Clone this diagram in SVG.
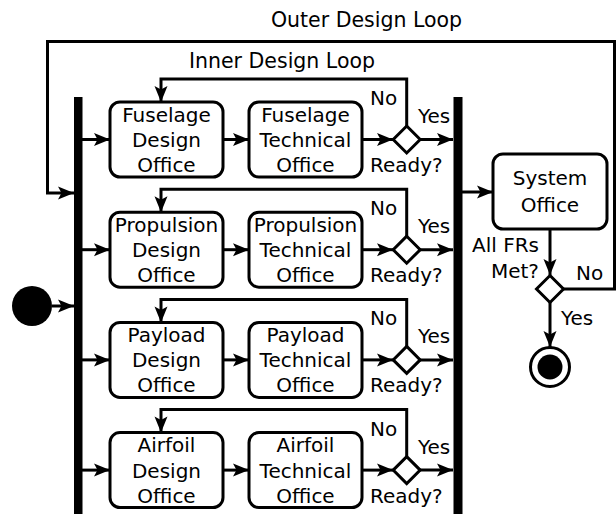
<svg xmlns="http://www.w3.org/2000/svg" width="616" height="514" viewBox="0 0 616 514">
<defs>
<marker id="ah" markerUnits="userSpaceOnUse" markerWidth="18" markerHeight="16" viewBox="-17 -8 18 16" refX="0" refY="0" orient="auto">
<path d="M0,0 L-16,-6.5 L-12.5,0 L-16,6.5 Z" fill="#000"/>
</marker>
</defs>
<style>
text{font-family:"DejaVu Sans","Liberation Sans",sans-serif;font-size:20px;fill:#000}
.c{text-anchor:middle}
.e{text-anchor:end}
.box{fill:#fff;stroke:#000;stroke-width:3}
.dia{fill:#fff;stroke:#000;stroke-width:3}
.ln{fill:none;stroke:#000;stroke-width:3}
.arr{fill:none;stroke:#000;stroke-width:3;marker-end:url(#ah)}
.bar{fill:#000}
</style>
<rect width="616" height="514" fill="#fff"/>

<g id="labels">
<text class="c" x="366.5" y="27" style="font-size:20.5px">Outer Design Loop</text>
<text class="c" x="282" y="68" style="font-size:20.5px">Inner Design Loop</text>
</g>

<g id="connectors">
<!-- outer loop -->
<path class="arr" d="M563,289 H614.5 V41.5 H47.5 V193 H74"/>
<!-- initial -->
<line class="arr" x1="52" y1="306" x2="74" y2="306"/>
<!-- join to system -->
<line class="arr" x1="462" y1="192" x2="493" y2="192"/>
<line class="arr" x1="550" y1="229" x2="550" y2="275"/>
<line class="arr" x1="550" y1="302" x2="550" y2="347"/>
<!-- row 1 -->
<line class="arr" x1="82" y1="139.5" x2="110" y2="139.5"/>
<line class="arr" x1="223" y1="139.5" x2="249" y2="139.5"/>
<line class="arr" x1="362" y1="139.5" x2="393" y2="139.5"/>
<line class="arr" x1="420" y1="139.5" x2="453" y2="139.5"/>
<path class="arr" d="M406.7,126 V79 H161 V102"/>
<!-- row 2 -->
<line class="arr" x1="82" y1="249.7" x2="110" y2="249.7"/>
<line class="arr" x1="223" y1="249.7" x2="249" y2="249.7"/>
<line class="arr" x1="362" y1="249.7" x2="393" y2="249.7"/>
<line class="arr" x1="420" y1="249.7" x2="453" y2="249.7"/>
<path class="arr" d="M406.7,236.2 V189.2 H161 V212.2"/>
<!-- row 3 -->
<line class="arr" x1="82" y1="359.9" x2="110" y2="359.9"/>
<line class="arr" x1="223" y1="359.9" x2="249" y2="359.9"/>
<line class="arr" x1="362" y1="359.9" x2="393" y2="359.9"/>
<line class="arr" x1="420" y1="359.9" x2="453" y2="359.9"/>
<path class="arr" d="M406.7,346.4 V299.4 H161 V322.4"/>
<!-- row 4 -->
<line class="arr" x1="82" y1="470.1" x2="110" y2="470.1"/>
<line class="arr" x1="223" y1="470.1" x2="249" y2="470.1"/>
<line class="arr" x1="362" y1="470.1" x2="393" y2="470.1"/>
<line class="arr" x1="420" y1="470.1" x2="453" y2="470.1"/>
<path class="arr" d="M406.7,456.6 V409.6 H161 V432.6"/>
</g>

<g id="start"><circle cx="32" cy="306" r="20" fill="#000"/></g>
<g id="fork"><rect class="bar" x="74" y="97" width="8.5" height="420"/></g>
<g id="join"><rect class="bar" x="453.5" y="97" width="9" height="420"/></g>

<!-- Row 1 -->
<g id="fuselage-design">
<rect class="box" x="110" y="102" width="113" height="75" rx="10"/>
<text class="c" x="166.5" y="121.7">Fuselage</text><text class="c" x="166.5" y="147">Design</text><text class="c" x="166.5" y="172">Office</text>
</g>
<g id="fuselage-technical">
<rect class="box" x="249" y="102" width="113" height="75" rx="10"/>
<text class="c" x="305.5" y="121.7">Fuselage</text><text class="c" x="305.5" y="147">Technical</text><text class="c" x="305.5" y="172">Office</text>
</g>
<g id="fuselage-ready">
<path class="dia" d="M406.7,126 L420.2,139.5 L406.7,153 L393.2,139.5 Z"/>
<text x="370" y="105">No</text><text x="418" y="123">Yes</text><text x="370" y="172">Ready?</text>
</g>

<!-- Row 2 -->
<g id="propulsion-design">
<rect class="box" x="110" y="212.2" width="113" height="75" rx="10"/>
<text class="c" x="166.5" y="231.9">Propulsion</text><text class="c" x="166.5" y="257.2">Design</text><text class="c" x="166.5" y="282.2">Office</text>
</g>
<g id="propulsion-technical">
<rect class="box" x="249" y="212.2" width="113" height="75" rx="10"/>
<text class="c" x="305.5" y="231.9">Propulsion</text><text class="c" x="305.5" y="257.2">Technical</text><text class="c" x="305.5" y="282.2">Office</text>
</g>
<g id="propulsion-ready">
<path class="dia" d="M406.7,236.2 L420.2,249.7 L406.7,263.2 L393.2,249.7 Z"/>
<text x="370" y="215.2">No</text><text x="418" y="233.2">Yes</text><text x="370" y="282.2">Ready?</text>
</g>

<!-- Row 3 -->
<g id="payload-design">
<rect class="box" x="110" y="322.4" width="113" height="75" rx="10"/>
<text class="c" x="166.5" y="342.1">Payload</text><text class="c" x="166.5" y="367.4">Design</text><text class="c" x="166.5" y="392.4">Office</text>
</g>
<g id="payload-technical">
<rect class="box" x="249" y="322.4" width="113" height="75" rx="10"/>
<text class="c" x="305.5" y="342.1">Payload</text><text class="c" x="305.5" y="367.4">Technical</text><text class="c" x="305.5" y="392.4">Office</text>
</g>
<g id="payload-ready">
<path class="dia" d="M406.7,346.4 L420.2,359.9 L406.7,373.4 L393.2,359.9 Z"/>
<text x="370" y="325.4">No</text><text x="418" y="343.4">Yes</text><text x="370" y="392.4">Ready?</text>
</g>

<!-- Row 4 -->
<g id="airfoil-design">
<rect class="box" x="110" y="432.6" width="113" height="75" rx="10"/>
<text class="c" x="166.5" y="452.3">Airfoil</text><text class="c" x="166.5" y="477.6">Design</text><text class="c" x="166.5" y="502.6">Office</text>
</g>
<g id="airfoil-technical">
<rect class="box" x="249" y="432.6" width="113" height="75" rx="10"/>
<text class="c" x="305.5" y="452.3">Airfoil</text><text class="c" x="305.5" y="477.6">Technical</text><text class="c" x="305.5" y="502.6">Office</text>
</g>
<g id="airfoil-ready">
<path class="dia" d="M406.7,456.6 L420.2,470.1 L406.7,483.6 L393.2,470.1 Z"/>
<text x="370" y="435.6">No</text><text x="418" y="453.6">Yes</text><text x="370" y="502.6">Ready?</text>
</g>

<!-- System -->
<g id="system-office">
<rect class="box" x="493" y="154" width="114" height="75" rx="10"/>
<text class="c" x="550" y="185">System</text><text class="c" x="550" y="212">Office</text>
</g>
<g id="frs-met">
<path class="dia" d="M550,275.5 L563.5,289 L550,302.5 L536.5,289 Z"/>
<text class="e" x="539" y="252">All FRs</text><text class="e" x="539" y="278">Met?</text>
<text x="576" y="280">No</text><text x="561" y="325">Yes</text>
</g>
<g id="end">
<circle cx="550" cy="367" r="19.5" fill="#fff" stroke="#000" stroke-width="3"/>
<circle cx="550" cy="367" r="12.5" fill="#000"/>
</g>
</svg>
